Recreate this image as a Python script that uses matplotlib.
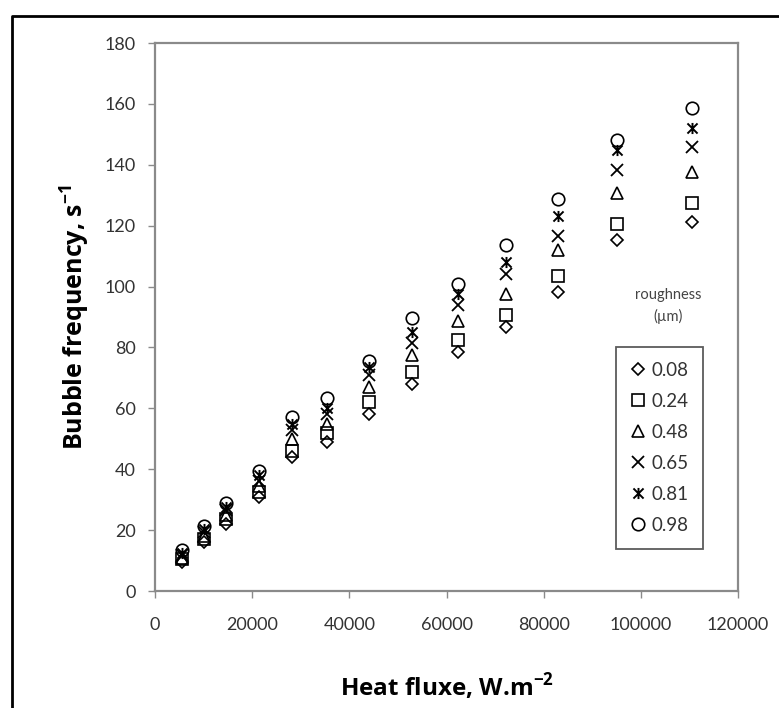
import numpy as np
import matplotlib
matplotlib.use("Agg")
import matplotlib.pyplot as plt
from matplotlib.lines import Line2D
from matplotlib.path import Path

plt.rcParams['font.family'] = ['Lato', 'DejaVu Sans']
plt.rcParams['mathtext.fontset'] = 'custom'
plt.rcParams['mathtext.rm'] = 'Open Sans:bold'
plt.rcParams['mathtext.bf'] = 'Open Sans:bold'

heat_flux = [5500, 10000, 14700, 21500, 28300, 35500, 44000,
             52800, 62300, 72200, 83000, 95000, 110500]

roughness = ['0.08', '0.24', '0.48', '0.65', '0.81', '0.98']

freq_008 = [9.5, 16, 22, 31, 44, 49, 58, 68, 78.5, 86.7, 98.2, 115.3, 121.3]
freq_024 = [10.5, 17, 23.5, 32.5, 46, 52, 62, 72, 82.5, 90.8, 103.4, 120.5, 127.5]
freq_048 = [11, 18, 25, 34.5, 50, 55, 67, 77.5, 88.6, 97.7, 112, 130.7, 137.5]
freq_065 = [11.8, 19.5, 26.5, 36, 53, 58, 71, 81.6, 94, 104, 116.6, 138.3, 146]
freq_081 = [12.5, 20.5, 27.5, 38, 55, 60, 73.5, 85, 97.5, 108, 123.2, 144.8, 152]
freq_098 = [13.5, 21.5, 29, 39.5, 57, 63.5, 75.5, 89.8, 100.9, 113.7, 128.8, 148.2, 158.5]
series = [freq_008, freq_024, freq_048, freq_065, freq_081, freq_098]

# x with a vertical bar through it
star = Path([(-1, -1), (1, 1), (-1, 1), (1, -1), (0, -1.1), (0, 1.1)],
            [Path.MOVETO, Path.LINETO, Path.MOVETO, Path.LINETO, Path.MOVETO, Path.LINETO])

styles = [
    dict(marker='D', ms=6, mfc='none', mec='black', mew=1.2),
    dict(marker='s', ms=8, mfc='none', mec='black', mew=1.2),
    dict(marker='^', ms=8, mfc='none', mec='black', mew=1.2),
    dict(marker='x', ms=8, mec='black', mew=1.3),
    dict(marker=star, ms=8, mfc='none', mec='black', mew=1.4),
    dict(marker='o', ms=9, mfc='none', mec='black', mew=1.2),
]

fig = plt.figure(figsize=(7.79, 7.08), dpi=100)
ax = fig.add_axes([155 / 779, 1 - 591 / 708, (738 - 155) / 779, (591 - 43) / 708])

for ys, st in zip(series, styles):
    ax.plot(heat_flux, ys, linestyle='none', **st)

ax.set_xlim(0, 120000)
ax.set_ylim(0, 180)
ax.set_xticks(np.arange(0, 120001, 20000))
ax.set_yticks(np.arange(0, 181, 20))
for s in ax.spines.values():
    s.set_color('#8a8a8a')
    s.set_linewidth(1.6)
ax.tick_params(direction='out', length=5, width=1, color='#8a8a8a',
               labelsize=13, labelcolor='#333333', pad=14)
ax.tick_params(axis='y', pad=9)

ax.set_xlabel('Heat fluxe, W.m$^{-2}$', fontsize=17.5, fontweight='bold',
              family='Open Sans', labelpad=27)
ax.set_ylabel('Bubble frequency, s$^{-1}$', fontsize=18, fontweight='bold',
              family='Open Sans', labelpad=9)

handles = [Line2D([], [], linestyle='none', **st) for st in styles]
leg = ax.legend(handles, roughness, loc='upper left', bbox_to_anchor=(0.79, 0.446),
                frameon=True, fancybox=False, edgecolor='#333333', fontsize=13.5,
                handlelength=0.8, handletextpad=0.3, labelspacing=0.75,
                borderpad=0.8, borderaxespad=0)
leg.get_frame().set_linewidth(1.3)
for t in leg.get_texts():
    t.set_color('#333333')

ax.text(0.88, 0.52, 'roughness\n(\u00b5m)', transform=ax.transAxes, ha='center', va='center',
        fontsize=10.5, color='#444444', linespacing=1.6)

# outer frame of the source image
fig.add_artist(Line2D([12 / 779, 12 / 779, 1.0], [0, 1 - 16 / 708, 1 - 16 / 708],
                      transform=fig.transFigure, color='black', lw=2))

fig.savefig('out.png', dpi=100)
